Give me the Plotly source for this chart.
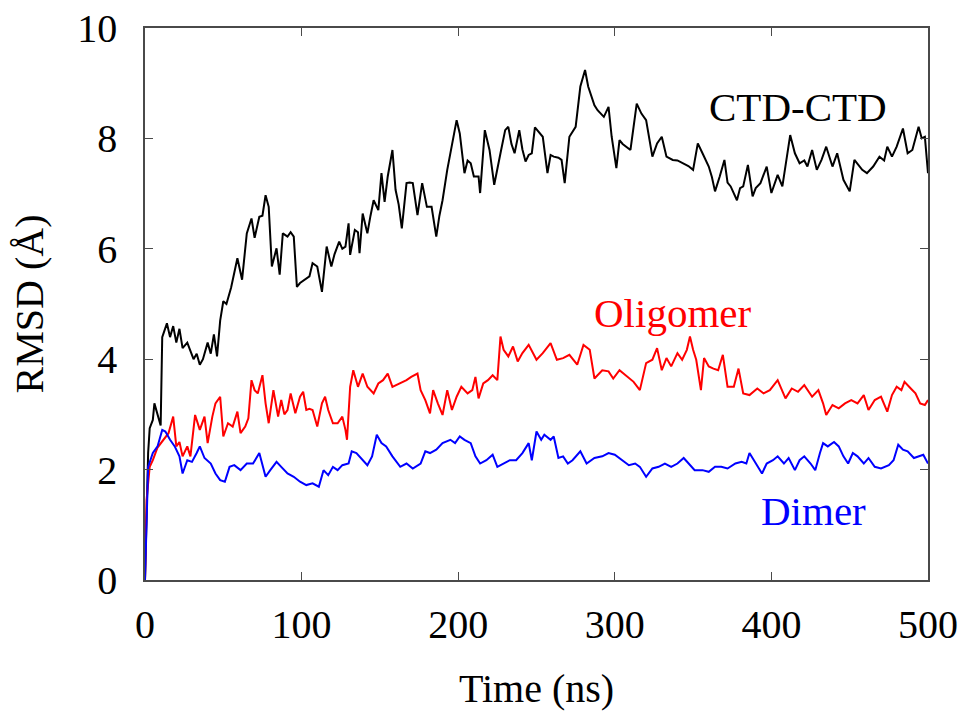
import plotly.graph_objects as go

# ---- data (time in ns, RMSD in Å) ----
ctd_t = [0, 1, 2, 3, 5, 6, 8, 10, 11, 14, 16, 18, 20, 22, 24, 27, 29, 31, 33, 35, 37, 40, 42, 44, 46, 48, 50, 52, 55, 57,
         59, 62, 65, 68, 70, 73, 75, 77, 79, 81, 84, 86, 88, 91, 93, 95, 97, 99, 102, 105, 107, 110, 113, 116, 119, 121,
         124, 126, 128, 130, 131, 134, 136, 137, 139, 142, 144, 146, 149, 151, 153, 155, 158, 160, 162, 164, 167, 169, 171,
         174, 177, 180, 183, 186, 188, 190, 193, 196, 199, 201, 204, 206, 208, 210, 213, 214, 217, 220, 223, 227, 230, 232,
         234, 236, 239, 241, 243, 245, 247, 249, 252, 254, 257, 259, 261, 264, 266, 268, 271, 275, 278, 281, 283, 285, 287,
         289, 291, 293, 296, 298, 301, 303, 305, 307, 310, 314, 317, 320, 322, 324, 327, 330, 333, 337, 340, 344, 347, 350,
         353, 356, 360, 362, 364, 367, 370, 372, 374, 378, 380, 382, 385, 388, 390, 393, 397, 400, 404, 407, 410, 412, 415,
         418, 421, 423, 426, 429, 432, 435, 439, 442, 446, 450, 453, 456, 458, 461, 465, 469, 472, 474, 477, 480, 484, 487,
         490, 494, 496, 498, 500]
ctd_v = [0, 1.2, 2.3, 2.75, 2.9, 3.2, 3.0, 2.8, 4.4, 4.65, 4.4, 4.6, 4.3, 4.55, 4.2, 4.3, 4.15, 4.0, 4.1, 3.9, 4.0, 4.3,
         4.1, 4.45, 4.05, 4.7, 5.05, 5.0, 5.3, 5.6, 5.83, 5.44, 6.28, 6.55, 6.2, 6.58, 6.6, 6.97, 6.76, 5.68, 6.01, 5.53,
         6.28, 6.22, 6.3, 6.22, 5.31, 5.38, 5.44, 5.5, 5.74, 5.68, 5.22, 6.04, 5.68, 5.9, 6.13, 6.0, 6.04, 6.46, 5.89, 6.34,
         6.3, 5.92, 6.64, 6.28, 6.6, 6.88, 6.7, 7.37, 6.85, 7.31, 7.79, 7.07, 6.8, 6.37, 7.19, 7.2, 7.19, 6.61, 7.19, 6.76,
         6.76, 6.22, 6.6, 6.88, 7.43, 7.91, 8.33, 8.09, 7.37, 7.6, 7.55, 7.31, 7.31, 7.01, 8.15, 7.79, 7.16, 7.73, 8.15,
         8.21, 7.9, 7.73, 8.15, 7.8, 7.58, 7.7, 7.73, 8.2, 8.1, 8.03, 7.37, 7.7, 7.67, 7.65, 7.61, 7.19, 8.03, 8.21, 8.94,
         9.24, 8.94, 8.76, 8.6, 8.51, 8.45, 8.39, 8.57, 8.03, 7.46, 7.97, 7.9, 7.85, 7.79, 8.63, 8.45, 8.33, 8.0, 7.67,
         7.91, 8.03, 7.67, 7.61, 7.6, 7.55, 7.5, 7.43, 7.91, 7.73, 7.49, 7.3, 7.04, 7.31, 7.61, 7.2, 7.13, 6.88, 7.1, 7.13,
         7.52, 6.95, 7.1, 7.19, 7.49, 7.01, 7.34, 7.13, 7.73, 8.06, 7.73, 7.55, 7.6, 7.49, 7.79, 7.43, 7.61, 7.85, 7.49,
         7.73, 7.25, 7.04, 7.61, 7.5, 7.43, 7.37, 7.49, 7.67, 7.6, 7.85, 7.67, 7.85, 8.18, 7.73, 7.79, 8.21, 8.0, 8.03, 7.37]

olig_t = [0, 1, 3, 5, 8, 12, 15, 18, 20, 22, 24, 27, 29, 32, 35, 38, 40, 43, 45, 48, 50, 53, 56, 59, 61, 64, 66, 68, 70,
          72, 75, 77, 79, 82, 85, 87, 89, 91, 93, 96, 99, 101, 103, 105, 107, 110, 113, 115, 117, 120, 123, 126, 128, 129,
          131, 133, 136, 139, 142, 146, 149, 152, 155, 158, 163, 167, 170, 174, 176, 179, 182, 184, 187, 190, 193, 196, 199,
          202, 206, 209, 211, 213, 216, 219, 222, 225, 227, 229, 232, 235, 238, 241, 245, 248, 250, 254, 259, 263, 267, 271,
          276, 280, 284, 287, 292, 296, 299, 303, 308, 312, 316, 320, 324, 327, 330, 333, 336, 340, 343, 346, 348, 350, 352,
          355, 357, 360, 363, 366, 369, 372, 376, 379, 382, 386, 391, 395, 399, 404, 409, 413, 417, 421, 426, 430, 433, 435,
          439, 443, 447, 451, 455, 459, 462, 466, 470, 474, 477, 480, 483, 485, 489, 492, 495, 498, 500]
olig_v = [0, 1.45, 2.05, 2.17, 2.4, 2.54, 2.66, 2.96, 2.42, 2.5, 2.24, 2.42, 2.24, 2.99, 2.72, 2.96, 2.48, 2.96, 3.2, 3.32,
          2.6, 2.84, 2.78, 3.05, 2.66, 2.78, 2.93, 3.62, 3.44, 3.38, 3.71, 3.2, 2.84, 3.44, 2.96, 3.26, 3.0, 3.08, 3.38,
          3.02, 3.32, 3.41, 3.08, 3.1, 3.08, 2.78, 3.2, 3.32, 3.08, 2.84, 2.84, 2.96, 2.72, 2.54, 3.5, 3.8, 3.5, 3.74, 3.5,
          3.38, 3.56, 3.62, 3.74, 3.5, 3.56, 3.62, 3.68, 3.74, 3.44, 3.26, 3.02, 3.44, 3.2, 2.99, 3.44, 3.08, 3.32, 3.5,
          3.38, 3.44, 3.68, 3.29, 3.56, 3.62, 3.71, 3.62, 4.41, 4.17, 4.05, 4.23, 3.96, 4.11, 4.26, 4.08, 3.99, 4.11, 4.29,
          3.99, 4.02, 4.08, 3.9, 4.26, 4.17, 3.65, 3.8, 3.78, 3.65, 3.8, 3.68, 3.59, 3.44, 3.93, 3.99, 4.2, 3.8, 4.02, 3.87,
          4.11, 3.99, 4.17, 4.41, 4.17, 3.99, 3.44, 4.02, 3.87, 3.83, 3.8, 4.08, 3.5, 3.5, 3.83, 3.38, 3.35, 3.47, 3.38,
          3.44, 3.62, 3.29, 3.47, 3.41, 3.53, 3.32, 3.44, 3.2, 2.99, 3.17, 3.11, 3.2, 3.26, 3.2, 3.35, 3.08, 3.26, 3.32,
          3.05, 3.35, 3.5, 3.44, 3.59, 3.47, 3.38, 3.2, 3.17, 3.26]

dimer_t = [0, 1, 2, 5, 8, 11, 13, 16, 19, 22, 24, 27, 30, 33, 35, 38, 42, 45, 48, 51, 54, 57, 61, 65, 69, 73, 77, 80, 84,
           87, 91, 95, 99, 103, 107, 111, 114, 117, 120, 123, 126, 130, 132, 135, 139, 142, 145, 148, 151, 154, 158, 163,
           167, 171, 176, 179, 182, 186, 190, 195, 198, 201, 204, 208, 211, 214, 218, 222, 225, 229, 233, 237, 241, 245, 247,
           250, 253, 255, 259, 261, 264, 267, 270, 273, 278, 282, 287, 292, 296, 300, 305, 309, 313, 316, 320, 324, 328,
           332, 336, 340, 344, 347, 351, 356, 360, 364, 368, 372, 377, 381, 384, 386, 390, 394, 397, 401, 404, 408, 411,
           415, 418, 421, 425, 428, 431, 433, 436, 440, 443, 446, 449, 452, 455, 459, 462, 466, 470, 475, 478, 481, 484,
           487, 491, 494, 497, 500]
dimer_v = [0, 1.2, 2.05, 2.3, 2.42, 2.72, 2.69, 2.54, 2.42, 2.24, 1.93, 2.17, 2.14, 2.3, 2.42, 2.21, 2.11, 1.93, 1.81,
           1.78, 2.05, 2.08, 1.99, 2.11, 2.11, 2.3, 1.87, 1.99, 2.14, 2.05, 1.93, 1.87, 1.78, 1.72, 1.75, 1.69, 1.99, 1.9,
           2.05, 1.99, 2.08, 2.11, 2.33, 2.3, 2.17, 2.08, 2.24, 2.63, 2.48, 2.42, 2.24, 2.05, 2.11, 2.02, 2.11, 2.33, 2.3,
           2.36, 2.48, 2.54, 2.48, 2.6, 2.54, 2.48, 2.24, 2.11, 2.17, 2.27, 2.05, 2.11, 2.17, 2.17, 2.3, 2.48, 2.17, 2.69,
           2.54, 2.63, 2.54, 2.6, 2.21, 2.24, 2.11, 2.17, 2.33, 2.11, 2.21, 2.24, 2.3, 2.27, 2.17, 2.08, 2.11, 2.05, 1.87,
           2.02, 2.05, 2.11, 2.05, 2.11, 2.21, 2.11, 1.99, 1.99, 1.96, 2.05, 2.05, 2.02, 2.11, 2.14, 2.11, 2.3, 2.11, 1.93,
           2.11, 2.17, 2.24, 2.11, 2.21, 1.99, 2.17, 2.24, 2.11, 1.99, 2.3, 2.48, 2.42, 2.5, 2.42, 2.24, 2.11, 2.3, 2.24,
           2.11, 2.21, 2.05, 2.02, 2.08, 2.17, 2.45, 2.36, 2.33, 2.21, 2.24, 2.27, 2.11]

x_ticks = [0, 100, 200, 300, 400, 500]
y_ticks = [0, 2, 4, 6, 8, 10]
labels = ["CTD-CTD", "Oligomer", "Dimer"]
label_pos_t = [417, 337, 427]
label_pos_v = [8.57, 4.84, 1.25]
colors = ["#000000", "#ff0000", "#0000ff"]

FONT = "Liberation Serif, Times New Roman, serif"

fig = go.Figure()
for t, v, name, c in [(ctd_t, ctd_v, labels[0], colors[0]),
                      (olig_t, olig_v, labels[1], colors[1]),
                      (dimer_t, dimer_v, labels[2], colors[2])]:
    fig.add_trace(go.Scatter(x=t, y=v, mode="lines", name=name,
                             line=dict(color=c, width=2)))

for txt, tx, ty, c in zip(labels, label_pos_t, label_pos_v, colors):
    fig.add_annotation(x=tx, y=ty, text=txt, showarrow=False,
                       font=dict(family=FONT, size=41, color=c),
                       xanchor="center", yanchor="middle")

axis_common = dict(showgrid=False, zeroline=False, showline=True, linecolor="#4a4a4a",
                   linewidth=1.5, mirror="ticks", ticks="inside", ticklen=8,
                   tickcolor="#4a4a4a", tickwidth=1, automargin=False,
                   ticklabeloverflow="allow",
                   tickfont=dict(family=FONT, size=40, color="#000"))

fig.update_xaxes(range=[0, 500], tickvals=x_ticks, ticklabelstandoff=8,
                 title=dict(text="Time (ns)", font=dict(family=FONT, size=40, color="#000"), standoff=28),
                 **axis_common)
fig.update_yaxes(range=[0, 10], tickvals=y_ticks, ticklabelstandoff=18,
                 title=dict(text="RMSD (Å)", font=dict(family=FONT, size=40, color="#000"), standoff=21),
                 **axis_common)

fig.update_layout(width=965, height=713, showlegend=False,
                  plot_bgcolor="white", paper_bgcolor="white",
                  margin=dict(l=145, r=37, t=28, b=133))

# remove the default 8px page margin so the figure sits at the window's corner
fig.write_html("out.html", config={"displayModeBar": False},
               post_script="document.body.style.margin='0';")
